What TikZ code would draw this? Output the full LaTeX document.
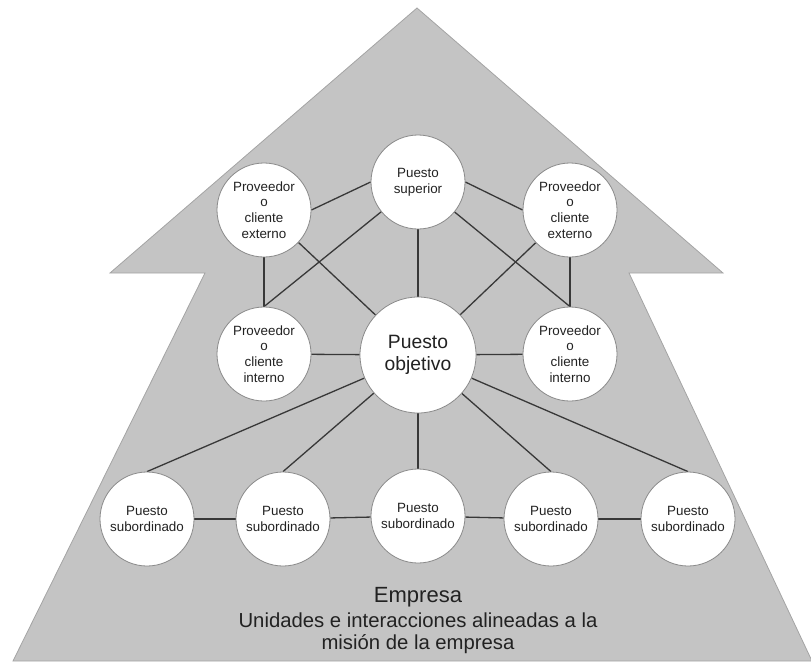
\documentclass[tikz,border=0pt]{standalone}
\usepackage{fontspec}
\setmainfont{Liberation Sans}
\usetikzlibrary{backgrounds}
\definecolor{bodygray}{HTML}{C4C4C4}
\definecolor{edgegray}{HTML}{A4A4A4}
\definecolor{linkgray}{HTML}{383838}
\definecolor{ringgray}{HTML}{8A8A8A}
\definecolor{inkgray}{HTML}{222222}
\tikzset{
  post/.style={circle, draw=ringgray, line width=0.8pt, fill=white, inner sep=0pt,
    minimum size=94pt, align=center, text=inkgray,
    font=\fontsize{13.4}{15.7}\selectfont},
  bigpost/.style={post, minimum size=116pt, font=\fontsize{19.3}{22}\selectfont},
  link/.style={draw=linkgray, line width=1.3pt},
}
\begin{document}
\begin{tikzpicture}[x=1pt, y=-1pt]
\useasboundingbox (0,0) rectangle (811,662);

% positions in the organisation
\node[post]    (sup)  at (418,182) {Puesto\\superior};
\node[post]    (extL) at (264,210) {Proveedor\\o\\cliente\\externo};
\node[post]    (extR) at (570,210) {Proveedor\\o\\cliente\\externo};
\node[post]    (intL) at (264,354) {Proveedor\\o\\cliente\\interno};
\node[post]    (intR) at (570,354) {Proveedor\\o\\cliente\\interno};
\node[bigpost] (obj)  at (418,355) {Puesto\\objetivo};
\node[post]    (s1)   at (147,519) {Puesto\\subordinado};
\node[post]    (s2)   at (283,519) {Puesto\\subordinado};
\node[post]    (s3)   at (418,516) {Puesto\\subordinado};
\node[post]    (s4)   at (551,519) {Puesto\\subordinado};
\node[post]    (s5)   at (688,519) {Puesto\\subordinado};

\node[text=inkgray, align=center, font=\fontsize{22}{24}\selectfont] (emp) at (418,597) {Empresa};
\node[text=inkgray, align=center, font=\fontsize{20.3}{22.5}\selectfont, anchor=north] (mision) at (418,609)
  {Unidades e interacciones alineadas a la\\misión de la empresa};

\begin{scope}[on background layer]
  % the company as an upward arrow
  \fill[bodygray, draw=edgegray, line width=0.8pt]
    (417,8) -- (723,273) -- (629,273) -- (812,661) -- (13,661) -- (205,273) -- (110,273) -- cycle;

  % interactions
  \draw[link] (sup.west) -- (extL.east);
  \draw[link] (sup.east) -- (extR.west);
  \draw[link] (sup) -- (intL.north);
  \draw[link] (sup) -- (intR.north);
  \draw[link] (extL) -- (obj);
  \draw[link] (extR) -- (obj);
  \draw[link] (extL.south) -- (intL.north);
  \draw[link] (extR.south) -- (intR.north);
  \draw[link] (intL) -- (obj);
  \draw[link] (intR) -- (obj);
  \draw[link] (sup) -- (obj);
  \foreach \s in {s1,s2,s3,s4,s5} \draw[link] (obj) -- (\s.north);
  \draw[link] (s1) -- (s2);
  \draw[link] (s2) -- (s3);
  \draw[link] (s3) -- (s4);
  \draw[link] (s4) -- (s5);
\end{scope}
\end{tikzpicture}
\end{document}
